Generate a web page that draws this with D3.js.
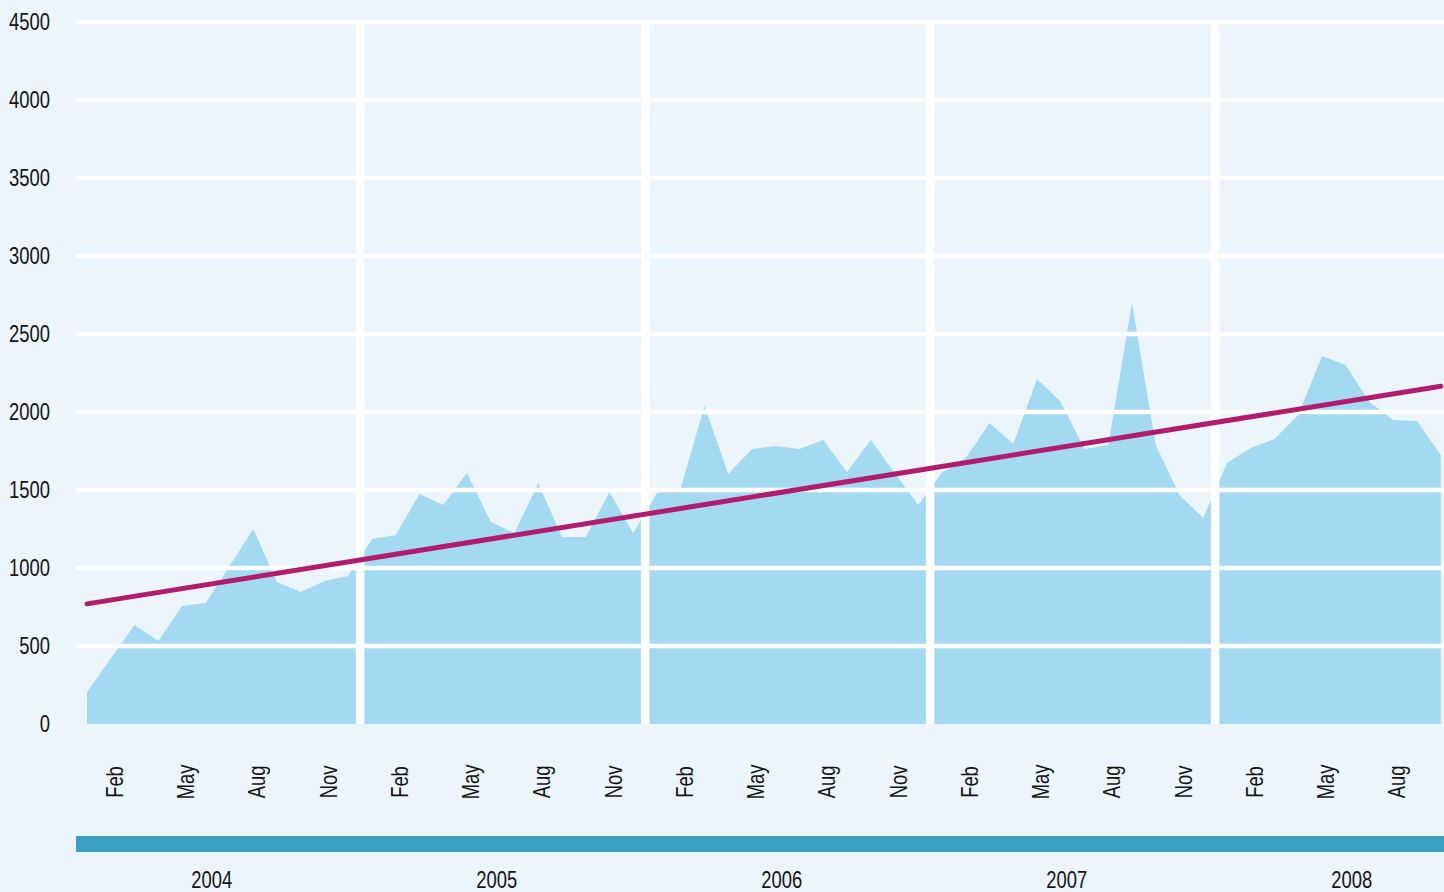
<!DOCTYPE html>
<html>
<head>
<meta charset="utf-8">
<script src="https://cdn.jsdelivr.net/npm/d3@7"></script>
<style>
  html, body { margin: 0; padding: 0; background: #ecf5fb; }
  svg { display: block; }
  text { font-family: "Liberation Sans", Arial, sans-serif; fill: #151515; }
</style>
</head>
<body>
<svg width="1444" height="892"></svg>
<script>
// monthly values Jan 2004 - Oct 2008
const years = [2004, 2005, 2006, 2007, 2008];
const monthNames = ["Jan","Feb","Mar","Apr","May","Jun","Jul","Aug","Sep","Oct","Nov","Dec"];
const tickMonths = ["Feb", "May", "Aug", "Nov"];
const yTicks = [0, 500, 1000, 1500, 2000, 2500, 3000, 3500, 4000, 4500];

const values2004 = [205, 420, 635, 532, 756, 776, 1013, 1250, 910, 846, 917, 949];
const values2005 = [1186, 1212, 1474, 1404, 1609, 1295, 1224, 1545, 1199, 1199, 1487, 1224];
const values2006 = [1481, 1513, 2038, 1603, 1763, 1782, 1763, 1821, 1615, 1821, 1612, 1404];
const values2007 = [1612, 1705, 1929, 1795, 2212, 2064, 1763, 1788, 2699, 1788, 1468, 1321];
const values2008 = [1673, 1769, 1827, 1981, 2359, 2301, 2064, 1949, 1942, 1724];

// linear trend, value at first and last month
const trendValues = [770, 2165];

const allValues = [values2004, values2005, values2006, values2007, values2008];
let data = [];
allValues.forEach((vals, i) => {
    vals.forEach((v, m) => {
        data.push({key: years[i] + "-" + m, year: years[i], month: monthNames[m], value: v});
    });
});

const width = 1444, height = 892;
const narrow = 0.8; // squeeze text to look like a narrow face
const svg = d3.select("svg");

const x = d3.scalePoint()
    .domain(data.map(d => d.key))
    .range([87, 87 + (data.length - 1) * 23.75]);

const y = d3.scaleLinear()
    .domain([0, 4500])
    .range([724, 22]);

// area
const area = d3.area()
    .x(d => x(d.key))
    .y0(y(0))
    .y1(d => y(d.value));

svg.append("path")
    .datum(data)
    .attr("d", area)
    .attr("fill", "#a3daf2");

// horizontal grid (drawn over the area)
svg.append("g")
    .selectAll("line")
    .data(yTicks.filter(t => t > 0))
    .enter().append("line")
    .attr("x1", 76)
    .attr("x2", width)
    .attr("y1", d => y(d))
    .attr("y2", d => y(d))
    .attr("stroke", "#fff")
    .attr("stroke-width", 4.5);

// year separators, between Dec and Jan
const step = x.step();
svg.append("g")
    .selectAll("line")
    .data(years.slice(1))
    .enter().append("line")
    .attr("x1", d => x(d + "-0") - step / 2)
    .attr("x2", d => x(d + "-0") - step / 2)
    .attr("y1", y(4500))
    .attr("y2", y(0))
    .attr("stroke", "#fff")
    .attr("stroke-width", 8.5);

// trend line
const first = data[0], last = data[data.length - 1];
svg.append("line")
    .attr("x1", x(first.key))
    .attr("y1", y(trendValues[0]))
    .attr("x2", x(last.key))
    .attr("y2", y(trendValues[1]))
    .attr("stroke", "#b21c6e")
    .attr("stroke-width", 5)
    .attr("stroke-linecap", "round");

// y labels
svg.append("g")
    .selectAll("text")
    .data(yTicks)
    .enter().append("text")
    .attr("transform", d => `translate(50, ${y(d)}) scale(${narrow}, 1)`)
    .attr("dy", "0.36em")
    .attr("text-anchor", "end")
    .attr("font-size", "23px")
    .text(d => d);

// month labels, rotated
svg.append("g")
    .selectAll("text")
    .data(data.filter(d => tickMonths.includes(d.month)))
    .enter().append("text")
    .attr("transform", d => `translate(${x(d.key) + 12}, 782) rotate(-90) scale(${narrow}, 1)`)
    .attr("text-anchor", "middle")
    .attr("font-size", "23px")
    .text(d => d.month);

// year band
svg.append("rect")
    .attr("x", 76)
    .attr("y", 836)
    .attr("width", width - 76)
    .attr("height", 16)
    .attr("fill", "#3aa0c4");

svg.append("g")
    .selectAll("text")
    .data(years)
    .enter().append("text")
    .attr("transform", d => `translate(${x(d + "-0") + 5.25 * step}, 888) scale(${narrow}, 1)`)
    .attr("text-anchor", "middle")
    .attr("font-size", "23px")
    .text(d => d);
</script>
</body>
</html>
